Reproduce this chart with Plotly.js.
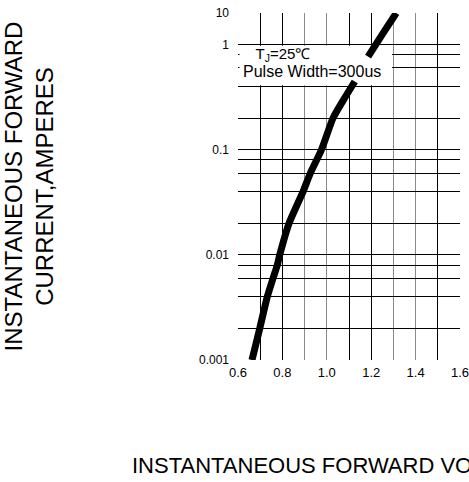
<!DOCTYPE html>
<html><head><meta charset="utf-8">
<script src="https://cdn.plot.ly/plotly-3.0.1.min.js"></script>
<style>html,body{margin:0;padding:0;background:#fff;overflow:hidden}</style>
</head><body><div id="chart" style="width:469px;height:482px"></div>
<script>
// Forward voltage (V) vs forward current (A)
const voltageLow = [0.663, 0.698, 0.732, 0.758, 0.777, 0.788, 0.830, 0.893, 0.926, 0.976, 1.028, 1.076, 1.126];
const currentLow = [0.001, 0.002, 0.004, 0.006, 0.008, 0.01, 0.02, 0.04, 0.06, 0.1, 0.2, 0.3, 0.446];
const voltageHigh = [1.186, 1.255, 1.313];
const currentHigh = [0.77, 1.3, 2.0];

const xTickVals = [0.6, 0.8, 1.0, 1.2, 1.4, 1.6];
const xTickText = ['0.6', '0.8', '1.0', '1.2', '1.4', '1.6'];
const xLightGrid = [0.6, 0.9, 1.0, 1.3, 1.4, 1.6];
const xDarkGrid = [0.7, 0.8, 1.1, 1.2, 1.5];

const yTickVals = [0.001, 0.01, 0.1, 1, 2];
const yTickText = ['0.001', '0.01', '0.1', '1', '10'];
const yMinorGrid = [0.002, 0.004, 0.006, 0.008, 0.02, 0.04, 0.06, 0.08, 0.2, 0.4, 0.6, 0.8];

const yTitle = 'INSTANTANEOUS FORWARD<br>CURRENT,AMPERES';
const xTitle = 'INSTANTANEOUS FORWARD VOLTAGE';
const noteText = '<span style="font-size:15px">\u00a0\u00a0\u00a0T<sub>J</sub>=25\u2103</span><br>' +
                 '<span style="font-size:16px">Pulse Width=300us</span>';
// white note panel, in data units (V, A)
const noteBoxV = [0.607, 1.2935];
const noteBoxA = [0.41, 0.975];

const curveStyle = {color: '#000', width: 7, shape: 'spline', smoothing: 0.6};
const traces = [
  {x: voltageLow, y: currentLow, type: 'scatter', mode: 'lines', line: curveStyle, hoverinfo: 'skip', showlegend: false},
  {x: voltageHigh, y: currentHigh, xaxis: 'x2', type: 'scatter', mode: 'lines', line: curveStyle, hoverinfo: 'skip', showlegend: false}
];

const font = {family: 'Liberation Sans, Arial, sans-serif', color: '#000'};
const layout = {
  width: 469, height: 482,
  margin: {l: 238, r: 9, t: 13, b: 122, pad: 0},
  paper_bgcolor: '#fff', plot_bgcolor: '#fff',
  font: font,
  showlegend: false,
  xaxis: {
    range: [0.6, 1.6], tickmode: 'array', tickvals: xTickVals, ticktext: xTickText,
    showgrid: false, zeroline: false, showline: false,
    minor: {tickmode: 'array', tickvals: xLightGrid, showgrid: true, gridcolor: '#8a8a8a', gridwidth: 1, ticks: ''},
    ticks: '', ticklabelstandoff: 3, ticklabeloverflow: 'allow', tickfont: {size: 13, color: '#000'}, fixedrange: true
  },
  xaxis2: {
    overlaying: 'x', anchor: 'y', range: [0.6, 1.6], tickmode: 'array', tickvals: xDarkGrid,
    showticklabels: false, showgrid: true, gridcolor: '#000', gridwidth: 1, zeroline: false,
    showline: false, ticks: '', fixedrange: true
  },
  yaxis: {
    type: 'log', range: [-3, Math.log10(2)], tickmode: 'array', tickvals: yTickVals, ticktext: yTickText,
    showgrid: true, gridcolor: '#000', gridwidth: 1, zeroline: false, showline: false,
    minor: {tickmode: 'array', tickvals: yMinorGrid, showgrid: true, gridcolor: '#000', gridwidth: 1, ticks: ''},
    ticks: '', ticklabelstandoff: 8, tickfont: {size: 12, color: '#000'}, fixedrange: true,
    title: {text: yTitle, standoff: 149, font: {size: 24, color: '#000'}}
  },
  shapes: [{
    type: 'rect', xref: 'x', yref: 'y', layer: 'between',
    x0: noteBoxV[0], x1: noteBoxV[1], y0: noteBoxA[0], y1: noteBoxA[1],
    fillcolor: '#fff', line: {width: 0}
  }],
  annotations: [
    {text: noteText, xref: 'paper', yref: 'paper', x: 0.014, y: 0.857, xanchor: 'left', yanchor: 'middle',
     align: 'left', showarrow: false, font: {size: 14, color: '#000'}},
    {text: xTitle, xref: 'paper', yref: 'paper', x: -0.4865, y: -0.3026, xanchor: 'left', yanchor: 'middle',
     showarrow: false, font: {size: 22, color: '#000'}}
  ]
};

Plotly.newPlot('chart', traces, layout, {staticPlot: true, displayModeBar: false});
</script>
</body></html>
